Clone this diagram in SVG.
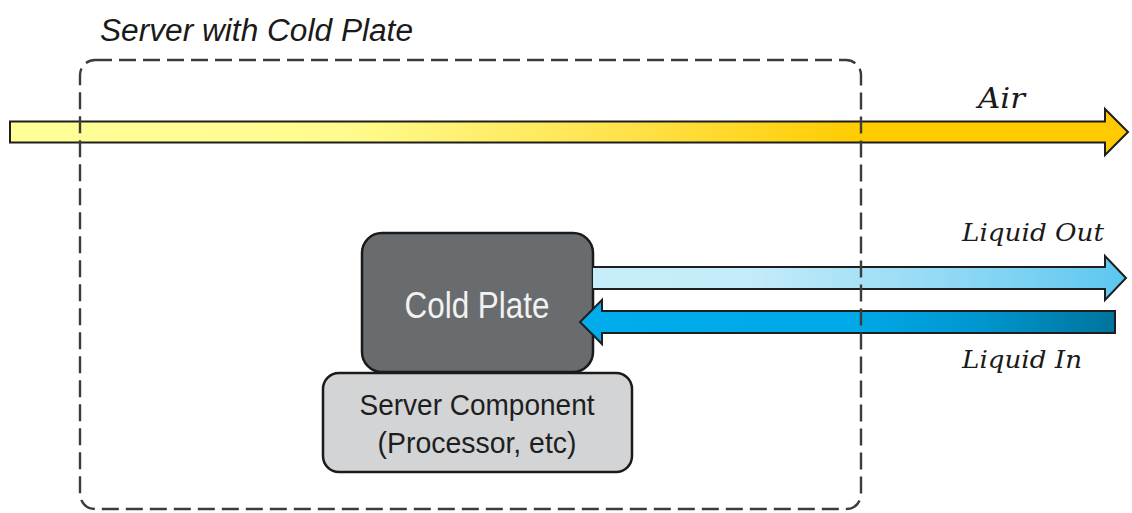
<svg xmlns="http://www.w3.org/2000/svg" width="1132" height="513" viewBox="0 0 1132 513">
  <defs>
    <linearGradient id="gAir" gradientUnits="userSpaceOnUse" x1="10" y1="0" x2="1128" y2="0">
      <stop offset="0" stop-color="#ffff98"/>
      <stop offset="0.3" stop-color="#fffb8e"/>
      <stop offset="0.55" stop-color="#ffe24a"/>
      <stop offset="0.76" stop-color="#ffcc00"/>
      <stop offset="1" stop-color="#ffcb00"/>
    </linearGradient>
    <linearGradient id="gOut" gradientUnits="userSpaceOnUse" x1="593" y1="0" x2="1126" y2="0">
      <stop offset="0" stop-color="#c8edfa"/>
      <stop offset="0.3" stop-color="#c4ebf9"/>
      <stop offset="0.65" stop-color="#93daf5"/>
      <stop offset="1" stop-color="#5cc6ef"/>
    </linearGradient>
    <linearGradient id="gIn" gradientUnits="userSpaceOnUse" x1="580" y1="0" x2="1115" y2="0">
      <stop offset="0" stop-color="#00acec"/>
      <stop offset="0.5" stop-color="#00a9e8"/>
      <stop offset="0.75" stop-color="#0096cf"/>
      <stop offset="1" stop-color="#00749c"/>
    </linearGradient>
  </defs>
  <style>
    .arrow { stroke: #1e1e1e; stroke-width: 2; stroke-linejoin: miter; }
    .box { stroke: #1a1a1a; stroke-width: 2.5; }
    .boundary { fill: none; stroke: #3c3c3c; stroke-width: 2.4; stroke-dasharray: 17 7; }
    .sans { font-family: "Liberation Sans", Arial, sans-serif; }
    .flow { font-family: "DejaVu Serif", "Liberation Serif", serif; font-style: italic; fill: #1a1a1a; }
  </style>

  <!-- server component sits under the cold plate -->
  <g id="server-component">
    <rect class="box" x="323" y="373" width="309" height="99" rx="16" fill="#d3d4d6"/>
    <text class="sans" x="477" y="415" font-size="30" fill="#1e1e1e" text-anchor="middle" textLength="235" lengthAdjust="spacingAndGlyphs">Server Component</text>
    <text class="sans" x="477" y="453" font-size="30" fill="#1e1e1e" text-anchor="middle" textLength="199" lengthAdjust="spacingAndGlyphs">(Processor, etc)</text>
  </g>

  <g id="cold-plate">
    <rect class="box" x="362" y="233" width="231" height="139" rx="20" fill="#696c6f"/>
    <text class="sans" x="477" y="318" font-size="36" fill="#f2f2f2" text-anchor="middle" textLength="145" lengthAdjust="spacingAndGlyphs">Cold Plate</text>
  </g>

  <!-- flows -->
  <g id="connectors">
    <path id="air-flow" class="arrow" fill="url(#gAir)" d="M10,121.5 H1105 V109 L1128,132 L1105,155 V142.5 H10 Z"/>
    <path id="liquid-out" class="arrow" fill="url(#gOut)" d="M593,267 H1105 V256 L1126,278 L1105,300 V289 H593"/>
    <path id="liquid-in" class="arrow" fill="url(#gIn)" d="M1115,311 H602 V300 L580,322 L602,344 V333 H1115 Z"/>
  </g>

  <g id="server-boundary">
    <rect class="boundary" x="80" y="60" width="781" height="449" rx="15"/>
    <text class="sans" x="100" y="41" font-size="31" font-style="italic" fill="#1a1a1a" textLength="313" lengthAdjust="spacingAndGlyphs">Server with Cold Plate</text>
  </g>

  <g id="labels">
    <text class="flow" x="978" y="108" font-size="28" textLength="47" lengthAdjust="spacingAndGlyphs">Air</text>
    <text class="flow" x="962" y="241" font-size="25" textLength="142" lengthAdjust="spacingAndGlyphs">Liquid Out</text>
    <text class="flow" x="962" y="368" font-size="25" textLength="120" lengthAdjust="spacingAndGlyphs">Liquid In</text>
  </g>
</svg>
